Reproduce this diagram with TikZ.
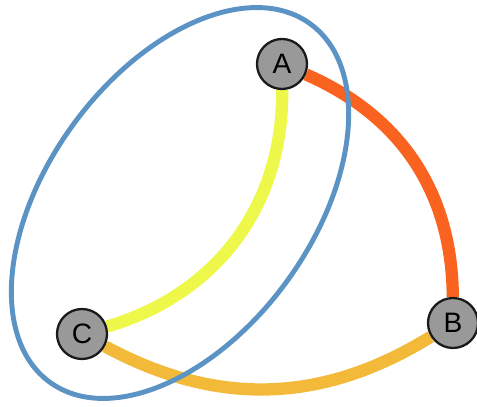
\documentclass[tikz,border=0pt]{standalone}
\usepackage{fontspec}
\setmainfont{Liberation Sans}
\usetikzlibrary{shapes.geometric}
\definecolor{grupoAzul}{HTML}{5B93C4}
\definecolor{aristaRoja}{HTML}{FA6220}
\definecolor{aristaAmarilla}{HTML}{EEF84A}
\definecolor{aristaOcre}{HTML}{F3BA3A}
\definecolor{vertGris}{HTML}{999999}
\definecolor{textDark}{HTML}{1A1A1A}
\pgfdeclarelayer{fondo}
\pgfsetlayers{fondo,main}

\begin{document}
\begin{tikzpicture}[
    vert/.style={circle, fill=vertGris, draw=textDark, line width=1.3pt,
      minimum size=1.0cm, inner sep=0pt, font=\fontsize{16}{18}\selectfont, text=black},
    arista/.style={line width=7pt},
    grupo/.style={ellipse, draw=grupoAzul, line width=2.8pt, inner sep=0pt}]
    \useasboundingbox (0,0) rectangle (9.54,8.12);
    \node[vert] (A) at (5.64,6.84) {A};
    \node[vert] (B) at (9.06,1.66) {B};
    \node[vert] (C) at (1.64,1.44) {C};
    % aristas
    \begin{pgfonlayer}{fondo}
    \draw[arista, aristaRoja] (A) to[bend left=33] (B);
    \draw[arista, aristaAmarilla] (A) to[bend left=37] (C);
    \draw[arista, aristaOcre] (C) to[bend right=30] (B);
    \end{pgfonlayer}
    % contorno del grupo
    \node[grupo, rotate=54, minimum width=8.86cm, minimum height=5.3cm] (g) at (3.6,4.06) {};
  \end{tikzpicture}
\end{document}
